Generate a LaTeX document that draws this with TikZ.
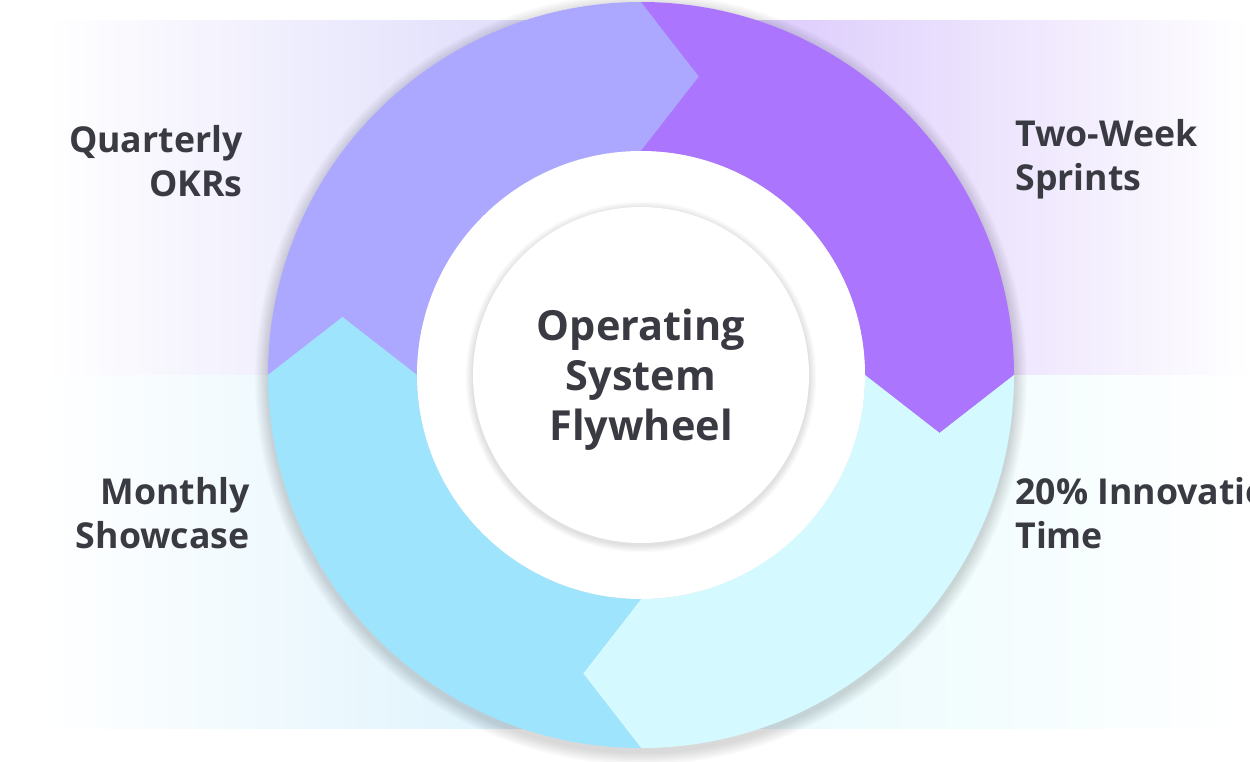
\documentclass[tikz,border=0pt]{standalone}
\usepackage{fontspec}
\setmainfont{Open Sans}
\usepackage{xcolor}
\usepackage{tikz}
\usetikzlibrary{calc}
\definecolor{ink}{HTML}{3A3A42}
\definecolor{okrc}{HTML}{ACA8FF}
\definecolor{sprintc}{HTML}{AB75FE}
\definecolor{innovc}{HTML}{D4FAFF}
\definecolor{showc}{HTML}{9EE4FD}
\definecolor{okrbg}{HTML}{D8D5FA}
\definecolor{okrmid}{HTML}{E6E4FC}
\definecolor{sprintbg}{HTML}{D3BFFB}
\definecolor{sprintmid}{HTML}{E4D6FD}
\definecolor{showbg}{HTML}{D6F0FC}
\definecolor{showmid}{HTML}{EAF8FE}
\definecolor{innovbg}{HTML}{E4FAFD}
\tikzset{
  lbl/.style={font=\fontsize{20.3}{25}\selectfont\bfseries,text=ink,inner sep=0pt},
  hub/.style={font=\fontsize{23.6}{28.5}\selectfont\bfseries,text=ink,align=center,inner sep=0pt},
  soft/.style={black,opacity=0.018}
}
\newcommand{\ro}{373}
\newcommand{\ri}{224}

\begin{document}
\begin{tikzpicture}[x=0.02cm,y=0.02cm]
  \clip (-641,-386) rectangle (609,375);
  % bands behind the wheel
  \shade[left color=white,middle color=okrmid,right color=okrbg] (-596,0) rectangle (0,354);
  \shade[left color=sprintbg,middle color=sprintmid,right color=white] (0,0) rectangle (609,354);
  \shade[left color=white,middle color=showmid,right color=showbg] (-596,-353) rectangle (0,0);
  \shade[left color=innovbg,right color=white] (0,-353) rectangle (609,0);

  % wheel shadow
  \foreach \k in {1,...,8}
    \fill[soft] (0,-4) circle[radius=\ro+\k*1.6];

  % four arrow segments, clockwise
  \foreach \a/\col in {180/okrc,90/sprintc,0/innovc,-90/showc}
    \fill[\col] (\a:\ro) arc[start angle=\a,end angle=\a-90,radius=\ro]
      -- ([shift={(\a-180:58)}]\a-90:298.5) -- (\a-90:\ri)
      arc[start angle=\a-90,end angle=\a,radius=\ri]
      -- ([shift={(\a-90:58)}]\a:298.5) -- cycle;

  \fill[white] (0,0) circle[radius=\ri];
  \foreach \k in {1,...,6}
    \fill[soft] (0,-2) circle[radius=168+\k*1.2];
  \fill[white] (0,0) circle[radius=168];

  \node[hub] (hub) at (0,-5) {Operating\\System\\Flywheel};

  \node[lbl,align=right,anchor=east] (okr) at (-398,214) {Quarterly\\OKRs};
  \node[lbl,align=left,anchor=west] (sprint) at (374,216) {Two-Week\\Sprints};
  \node[lbl,align=right,anchor=east] (show) at (-391,-138) {Monthly\\Showcase};
  \node[lbl,align=left,anchor=west] (innov) at (374,-138) {20\% Innovation\\Time};
\end{tikzpicture}
\end{document}
